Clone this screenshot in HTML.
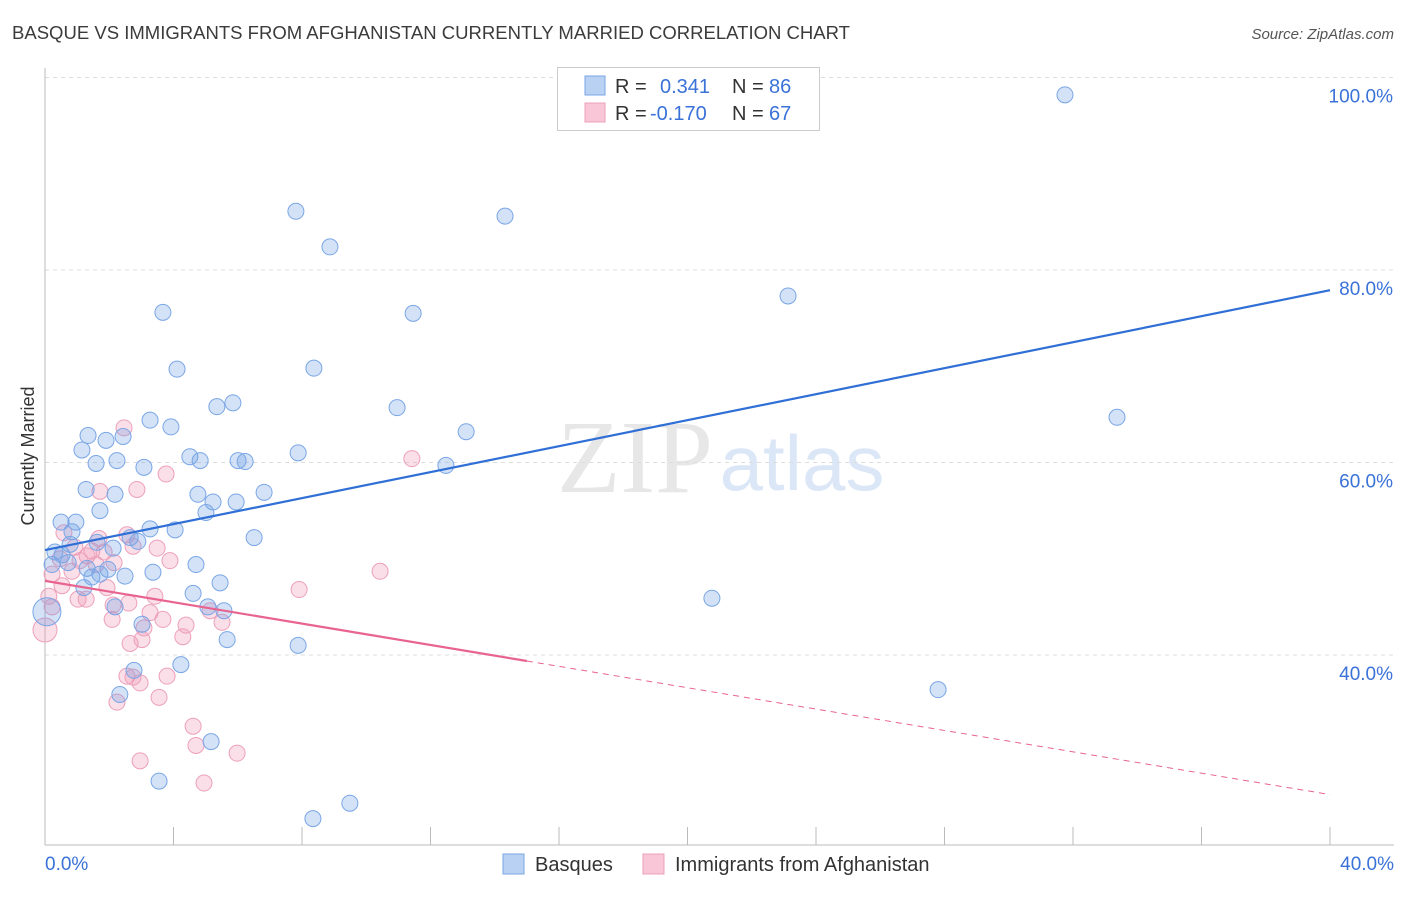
<!DOCTYPE html>
<html><head><meta charset="utf-8"><style>
body{margin:0;background:#fff;font-family:"Liberation Sans",sans-serif;}
</style></head><body>
<svg id="chart" width="1406" height="892" xmlns="http://www.w3.org/2000/svg" font-family="Liberation Sans, sans-serif">
<text x="12" y="39" font-size="18.5" fill="#3b3b3b" textLength="838" lengthAdjust="spacingAndGlyphs">BASQUE VS IMMIGRANTS FROM AFGHANISTAN CURRENTLY MARRIED CORRELATION CHART</text>
<text x="1394" y="39" font-size="15" fill="#555" font-style="italic" text-anchor="end">Source: ZipAtlas.com</text>
<text transform="translate(34,456) rotate(-90)" font-size="18" fill="#333" text-anchor="middle">Currently Married</text>
<g opacity="0.5">
<text x="635" y="492" font-size="104" font-family="Liberation Serif, serif" fill="#d0d0d0" text-anchor="middle">ZIP</text>
<text x="802" y="490" font-size="78" fill="#b8cff0" text-anchor="middle">atlas</text>
</g>
<g id="grid"></g><g id="marks"></g><g id="lines"></g>
<g>
<rect x="557.5" y="67.5" width="262" height="63" fill="#fff" stroke="#ccc"/>
<rect x="585" y="76" width="20" height="19" fill="#b9d1f3" stroke="#7aa6e6"/>
<rect x="585" y="103" width="20" height="19" fill="#f8c6d6" stroke="#eda0bb"/>
<text x="615" y="93" font-size="20" fill="#333">R =</text><text x="660" y="93" font-size="20" fill="#3a72d8">0.341</text>
<text x="732" y="93" font-size="20" fill="#333">N =</text><text x="769" y="93" font-size="20" fill="#3a72d8">86</text>
<text x="615" y="120" font-size="20" fill="#333">R =</text><text x="650" y="120" font-size="20" fill="#3a72d8">-0.170</text>
<text x="732" y="120" font-size="20" fill="#333">N =</text><text x="769" y="120" font-size="20" fill="#3a72d8">67</text>
</g>
<g>
<rect x="503" y="854" width="21" height="20" fill="#b9d1f3" stroke="#7aa6e6"/>
<text x="535" y="871" font-size="20" fill="#333">Basques</text>
<rect x="643" y="854" width="21" height="20" fill="#f8c6d6" stroke="#eda0bb"/>
<text x="675" y="871" font-size="20" fill="#333">Immigrants from Afghanistan</text>
</g>
</svg>
<script>
const yTicks=[40,60,80,100];
const yTickLabels=["40.0%","60.0%","80.0%","100.0%"];
const xTickCount=10;
const basqueX=[31.75,7.81,14.32,8.87,23.13,3.67,11.46,4.11,8.37,5.85,5.35,10.96,3.27,3.92,33.37,1.34,2.43,13.11,1.90,1.15,7.88,4.51,4.83,1.59,2.24,6.01,6.23,12.48,3.08,1.28,2.18,4.76,6.82,5.23,5.95,5.01,1.71,0.50,0.96,3.27,4.05,0.84,2.65,2.89,6.51,0.78,1.62,2.12,0.31,0.53,0.22,0.72,4.70,1.31,1.96,3.36,1.46,2.49,1.71,5.45,1.21,0.06,4.61,2.18,5.07,5.57,3.02,20.76,5.67,7.88,4.23,2.77,2.33,27.80,5.17,3.55,9.49,8.34];
const basqueY=[98.2,86.1,85.6,82.4,77.3,75.6,75.5,69.7,69.8,66.2,65.8,65.7,64.4,63.7,64.7,62.8,62.7,63.2,62.3,61.3,61.0,60.6,60.2,59.9,60.2,60.2,60.1,59.7,59.5,57.2,56.7,56.7,56.9,55.9,55.9,54.8,55.0,53.8,53.8,53.1,53.0,52.8,52.2,51.8,52.2,51.5,51.7,51.1,50.7,50.4,49.4,49.6,49.4,49.0,48.9,48.6,48.1,48.2,48.4,47.5,47.0,44.5,46.4,45.0,45.0,44.6,43.2,45.9,41.6,41.0,39.0,38.4,35.9,36.4,31.0,26.9,24.6,23.0];
const afgX=[2.46,11.42,3.77,2.86,1.71,0.59,2.55,1.68,2.74,3.49,0.93,1.46,1.84,1.31,0.47,1.09,3.89,2.15,1.59,0.84,0.22,10.43,1.93,0.53,7.91,3.42,0.12,1.03,1.28,2.61,0.22,2.12,3.27,5.14,3.67,2.09,5.51,4.39,0.0,3.08,4.29,2.65,3.02,2.55,3.80,2.96,2.74,3.55,2.24,4.61,4.70,5.98,2.96,4.95];
const afgY=[63.6,60.4,58.8,57.2,57.0,52.7,52.5,52.1,51.3,51.1,51.2,50.8,50.7,50.3,50.0,49.8,49.8,49.6,49.4,48.7,48.4,48.7,47.0,47.2,46.8,46.1,46.1,45.8,45.8,45.4,45.0,45.2,44.4,44.6,43.7,43.7,43.4,43.1,42.6,42.8,41.9,41.2,41.6,37.8,37.8,37.1,37.7,35.6,35.1,32.6,30.6,29.8,29.0,26.7];
const basqueTrend=[50.9,77.9];
const afgTrend=[47.7,25.5];
const NS="http://www.w3.org/2000/svg";
const xs=v=>45+v/40*1285;
const ys=v=>655-(v-40)/20*192.5;
function mk(t,a,p){const e=document.createElementNS(NS,t);for(const k in a)e.setAttribute(k,a[k]);p.appendChild(e);return e;}
const grid=document.getElementById('grid'),marks=document.getElementById('marks'),lines=document.getElementById('lines');
yTicks.forEach((v,i)=>{
 const l=mk('line',{x1:45,x2:1394,y1:ys(v),y2:ys(v),stroke:'#ddd','stroke-dasharray':'4,4'},grid);
 
 
 const t=mk('text',{x:1393,y:ys(v)+25,'font-size':19,fill:'#3a72d8','text-anchor':'end'},grid);
 t.textContent=yTickLabels[i];
 
 
});
const ax=mk('line',{x1:45,x2:45,y1:68,y2:845,stroke:'#bbb'},grid);


const bx=mk('line',{x1:45,x2:1394,y1:845,y2:845,stroke:'#bbb'},grid);


for(let i=1;i<=xTickCount;i++){
 const tk=mk('line',{x1:xs(i*4),x2:xs(i*4),y1:827,y2:845,stroke:'#bbb'},grid);
 
 
}
const xl=mk('text',{x:45,y:870,'font-size':19,fill:'#3a72d8'},grid);xl.textContent='0.0%';


const xr=mk('text',{x:1394,y:870,'font-size':19,fill:'#3a72d8','text-anchor':'end'},grid);xr.textContent='40.0%';


afgX.forEach((x,i)=>{
 const c=mk('circle',{cx:xs(x),cy:ys(afgY[i]),r:(x===0?12:8),fill:'rgba(240,150,180,0.3)',stroke:'#eda0bb','stroke-width':1},marks);
 
 
});
basqueX.forEach((x,i)=>{
 const c=mk('circle',{cx:xs(x),cy:ys(basqueY[i]),r:(x<0.1?14:8),fill:'rgba(110,160,230,0.3)',stroke:'#7aa6e6','stroke-width':1},marks);
 
 
});
const bl=mk('line',{x1:xs(0),y1:ys(basqueTrend[0]),x2:xs(40),y2:ys(basqueTrend[1]),stroke:'#2f6fd6','stroke-width':2.2},lines);


const f=v=>afgTrend[0]+(afgTrend[1]-afgTrend[0])*v/40;
const pl=mk('line',{x1:xs(0),y1:ys(f(0)),x2:xs(15),y2:ys(f(15)),stroke:'#e8648f','stroke-width':2.2},lines);


const pd=mk('line',{x1:xs(15),y1:ys(f(15)),x2:xs(40),y2:ys(f(40)),stroke:'#e8648f','stroke-width':1,'stroke-dasharray':'6,5'},lines);


</script>
</body></html>
